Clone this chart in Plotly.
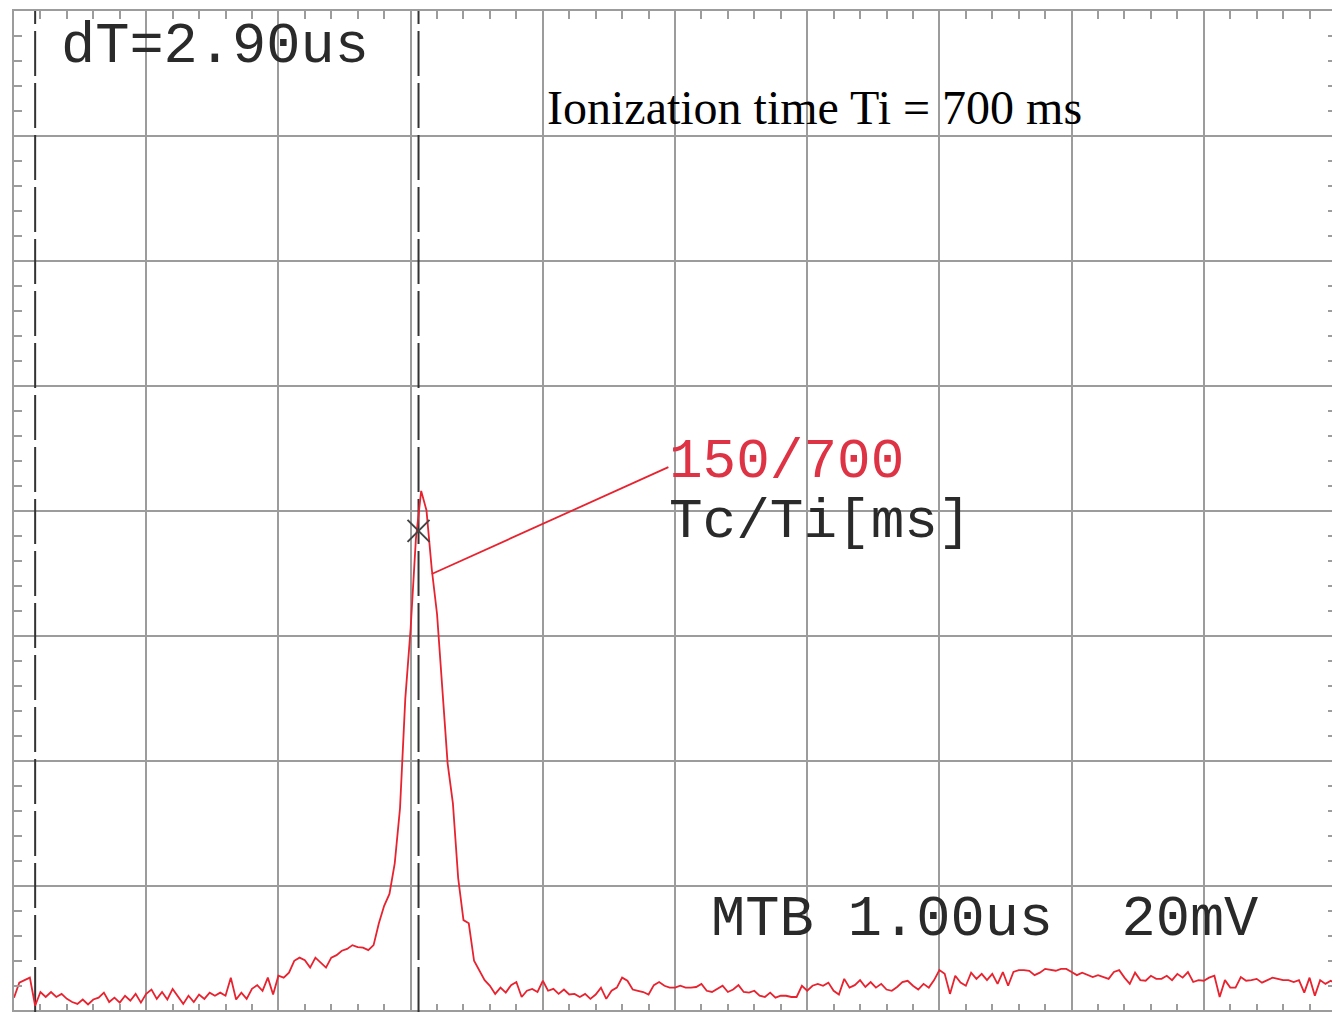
import numpy as np
import plotly.graph_objects as go

# ---- data (time in µs, signal in mV; screen 0..160 mV, 20 mV/div, 1 µs/div) ----
t_start = 0.0
t_step = 0.04
signal_mv = [
    2.1, 4.5, 4.9, 5.3, 0.8, 3.0, 2.2, 3.0, 2.2, 2.7,
    1.9, 1.4, 1.1, 1.8, 1.0, 1.8, 2.1, 2.9, 1.4, 2.1,
    1.3, 2.4, 1.6, 2.7, 1.3, 2.7, 3.4, 1.9, 3.0, 1.8,
    3.5, 2.2, 1.1, 2.4, 1.4, 2.6, 1.9, 2.9, 2.4, 2.9,
    2.4, 5.3, 1.8, 2.9, 1.9, 3.5, 4.1, 3.2, 5.3, 2.6,
    5.6, 5.3, 6.1, 8.0, 8.5, 8.1, 6.9, 8.5, 7.7, 6.9,
    8.5, 8.9, 9.6, 9.9, 10.5, 10.2, 10.1, 9.7, 10.5, 14.0,
    16.8, 18.7, 23.6, 32.4, 50.0, 61.1, 75.5, 83.2, 80.1, 70.7,
    63.5, 51.6, 39.6, 33.2, 21.2, 14.5, 14.0, 8.0, 6.5, 4.9,
    4.0, 2.7, 3.7, 2.9, 4.1, 4.6, 2.2, 3.2, 3.5, 3.0,
    4.8, 3.2, 3.5, 2.7, 3.4, 2.6, 2.7, 2.2, 2.7, 1.9,
    2.6, 3.7, 1.9, 3.2, 3.7, 5.3, 4.8, 3.4, 3.2, 3.0,
    2.6, 4.1, 4.6, 4.0, 3.7, 3.7, 4.0, 3.7, 3.7, 3.8,
    4.3, 3.2, 3.0, 3.5, 4.0, 3.0, 3.4, 4.1, 3.0, 2.9,
    3.2, 2.4, 2.2, 2.9, 2.1, 2.4, 2.4, 2.2, 2.2, 4.0,
    3.2, 4.0, 4.3, 4.0, 4.5, 3.2, 2.6, 5.1, 3.7, 4.1,
    4.9, 3.8, 4.6, 3.7, 4.3, 3.4, 3.2, 3.8, 4.6, 4.8,
    4.0, 3.4, 4.3, 3.7, 4.9, 6.5, 5.9, 2.7, 5.6, 4.5,
    4.0, 6.1, 5.1, 5.9, 4.9, 5.9, 4.3, 6.2, 4.0, 6.2,
    6.5, 6.5, 6.4, 5.7, 6.1, 6.7, 6.5, 6.4, 6.7, 6.7,
    6.2, 5.7, 6.1, 5.7, 5.4, 5.7, 5.4, 5.1, 6.2, 6.5,
    5.3, 4.3, 6.1, 4.9, 4.8, 5.6, 5.1, 5.1, 5.6, 4.9,
    5.9, 5.3, 6.2, 4.6, 4.9, 4.8, 5.3, 5.6, 2.2, 4.9,
    3.7, 3.7, 5.4, 4.8, 4.9, 5.1, 4.5, 4.9, 5.3, 5.1,
    4.9, 4.9, 4.6, 4.9, 2.9, 5.3, 2.4, 4.9, 4.3, 4.8,
    4.3,
]
time_us = t_start + t_step * np.arange(len(signal_mv))

cursor_times = [0.16, 3.06]          # dT = 2.90 us
cross_point = (3.06, 76.8)           # cursor crossing marker
leader_x = [3.16, 4.95]              # leader line to the readout
leader_y = [69.9, 87.0]

x_range = [0, 10]
y_range = [-0.2, 160]

GRID = "#9c9c9c"
TRACE_RED = "#e8222e"
TEXT_RED = "#dd3344"
INK = "#2a2a2a"
MONO = "Liberation Mono, Courier New, monospace"
SERIF = "Liberation Serif, Times New Roman, serif"

fig = go.Figure()

# cursors
for ct in cursor_times:
    fig.add_trace(go.Scatter(
        x=[ct, ct], y=y_range, mode="lines",
        line=dict(color="#333333", width=2, dash="45px,7px"),
        hoverinfo="skip", showlegend=False))

# signal
fig.add_trace(go.Scatter(
    x=time_us, y=signal_mv, mode="lines",
    line=dict(color=TRACE_RED, width=1.8),
    showlegend=False))

# leader line
fig.add_trace(go.Scatter(
    x=leader_x, y=leader_y, mode="lines",
    line=dict(color=TRACE_RED, width=1.8),
    hoverinfo="skip", showlegend=False))

# cross marker
fig.add_trace(go.Scatter(
    x=[cross_point[0]], y=[cross_point[1]], mode="markers",
    marker=dict(symbol="x-thin", size=22, line=dict(color="#444444", width=2)),
    hoverinfo="skip", showlegend=False))

# dummy trace for mirrored tick axes
fig.add_trace(go.Scatter(x=[None], y=[None], xaxis="x2", yaxis="y2",
                         showlegend=False, hoverinfo="skip"))

minor_common = dict(ticks="inside", ticklen=8, tickwidth=1.5, tickcolor=GRID, showgrid=False)

fig.update_layout(
    width=1332, height=1004,
    margin=dict(l=6, r=4, t=3, b=0),
    paper_bgcolor="white", plot_bgcolor="white",
    xaxis=dict(range=x_range, dtick=1, showgrid=True, gridcolor=GRID, gridwidth=1.5,
               zeroline=False, showticklabels=False, ticks="",
               showline=True, linecolor=GRID, linewidth=1.5, mirror=True,
               minor=dict(dtick=0.2, **minor_common)),
    yaxis=dict(range=y_range, dtick=20, tick0=0, showgrid=True, gridcolor=GRID, gridwidth=1.5,
               zeroline=False, showticklabels=False, ticks="",
               showline=True, linecolor=GRID, linewidth=1.5, mirror=True,
               minor=dict(dtick=4, tick0=0, **minor_common)),
    xaxis2=dict(range=x_range, overlaying="x", side="top", anchor="y2", dtick=1,
                showgrid=False, zeroline=False, showticklabels=False, ticks="",
                minor=dict(dtick=0.2, **minor_common)),
    yaxis2=dict(range=y_range, overlaying="y", side="right", anchor="x2", dtick=20, tick0=0,
                showgrid=False, zeroline=False, showticklabels=False, ticks="",
                minor=dict(dtick=4, tick0=0, **minor_common)),
    showlegend=False,
)

def note(x, y, text, font, size, color):
    fig.add_annotation(x=x, y=y, xref="x", yref="y", text=text, showarrow=False,
                       xanchor="left", yanchor="middle",
                       font=dict(family=font, size=size, color=color))

note(0.34, 154.3, "dT=2.90us", MONO, 57, INK)
note(4.02, 144.6, "Ionization time Ti = 700 ms", SERIF, 48, "black")
note(4.94, 87.8, "150/700", MONO, 56, TEXT_RED)
note(4.94, 78.2, "Tc/Ti[ms]", MONO, 56, INK)
note(5.26, 14.5, "MTB 1.00us  20mV", MONO, 57, INK)

fig.write_html("out.html")
